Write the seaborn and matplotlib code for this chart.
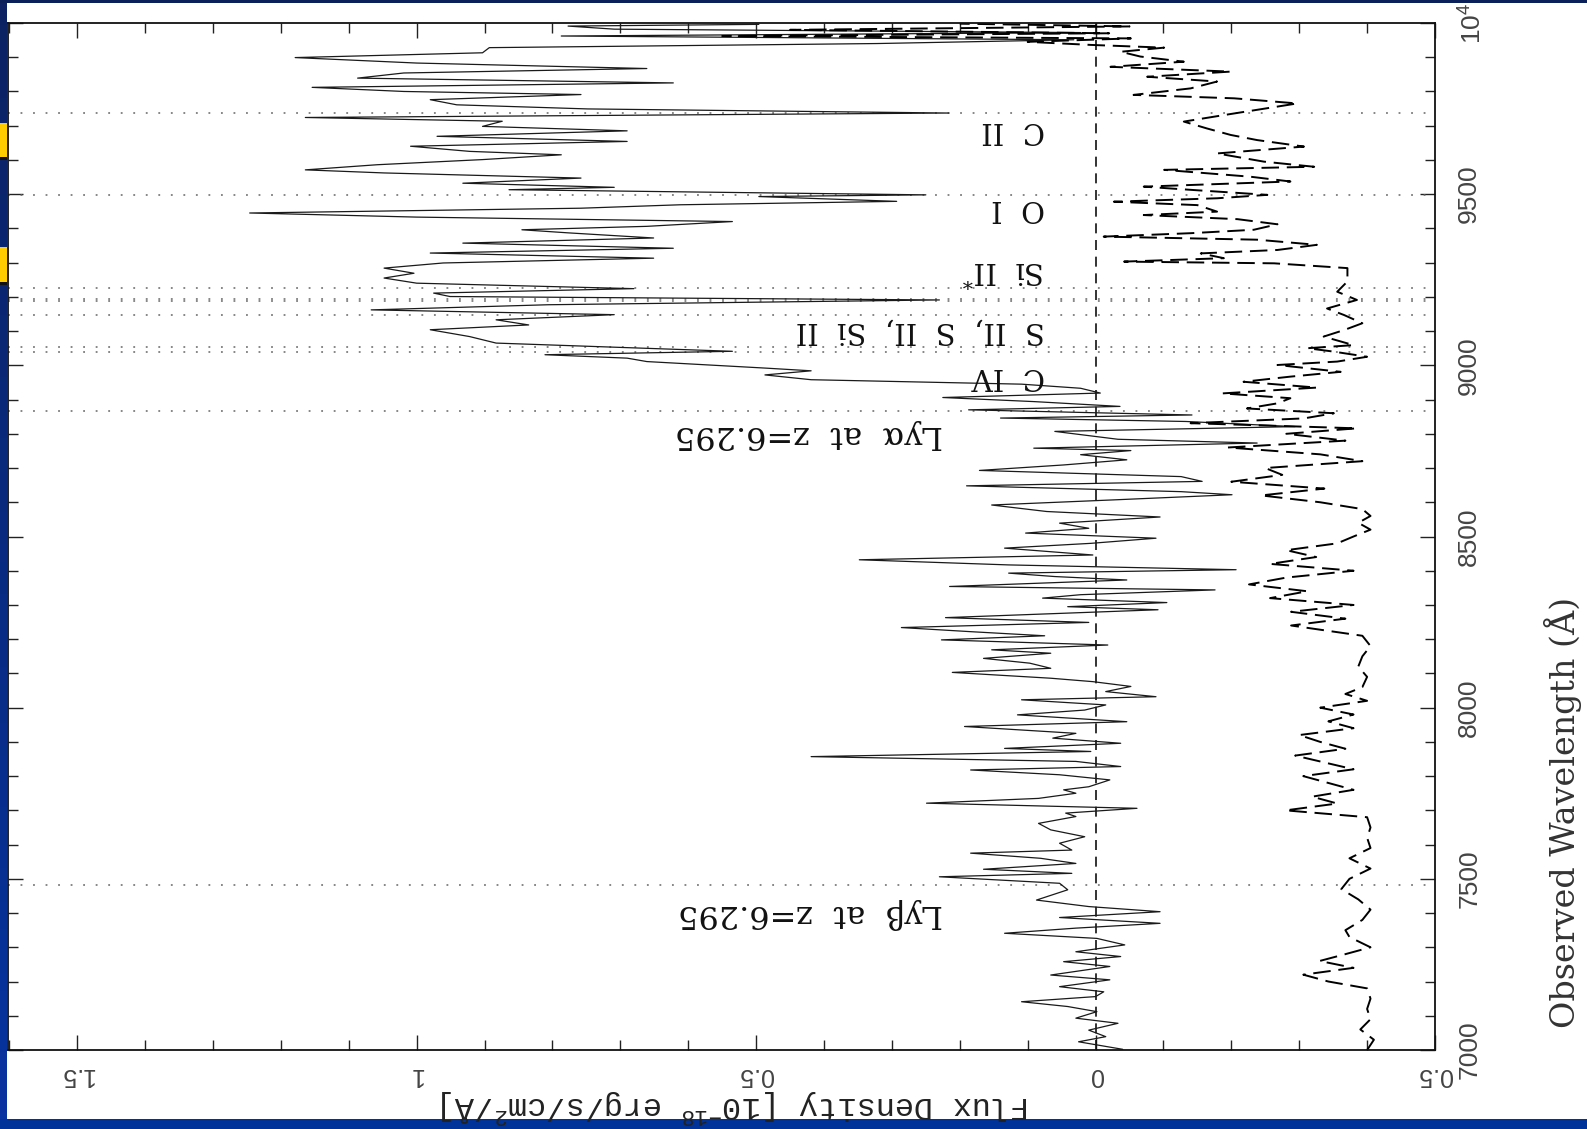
import numpy as np
import pandas as pd
import matplotlib
matplotlib.use("Agg")
import matplotlib.pyplot as plt
import seaborn as sns
from matplotlib.patches import Rectangle
from matplotlib.ticker import MultipleLocator
from matplotlib.colors import LinearSegmentedColormap

# ---------------- data ----------------
wave = [7002, 7024, 7039, 7058, 7078, 7093, 7112, 7127, 7141, 7156, 7170, 7185, 7205, 7219,
        7244, 7258, 7273, 7287, 7307, 7326, 7341, 7356, 7370, 7387, 7404, 7419, 7438, 7468,
        7487, 7506, 7516, 7528, 7545, 7560, 7575, 7584, 7604, 7623, 7643, 7662, 7682, 7692,
        7706, 7721, 7735, 7750, 7760, 7769, 7789, 7804, 7818, 7828, 7843, 7857, 7872, 7881,
        7896, 7911, 7925, 7945, 7959, 7979, 7993, 8008, 8023,
        8032, 8047, 8062, 8076, 8086, 8103, 8115, 8130, 8144, 8159, 8169, 8183, 8198, 8210,
        8222, 8234, 8249, 8263, 8286, 8295, 8307, 8320, 8330, 8344, 8354, 8373, 8383, 8393,
        8403, 8417, 8432, 8446, 8466, 8480, 8495, 8510, 8524, 8539, 8557, 8573, 8592, 8607,
        8622, 8631, 8648, 8661, 8675, 8693, 8709, 8724, 8739, 8751, 8758, 8773, 8784, 8807,
        8821, 8836,
        8846, 8855, 8870, 8880, 8894, 8906, 8919, 8933, 8945, 8958, 8972, 8984, 8992, 9011,
        9021, 9031, 9041, 9055, 9065, 9084, 9104, 9118, 9133, 9148, 9162, 9177, 9191, 9201,
        9211, 9224, 9240, 9255, 9269, 9284, 9299, 9313, 9328, 9342, 9357, 9372, 9387, 9396,
        9406, 9420, 9433, 9445, 9459, 9469, 9479, 9493, 9498, 9513, 9520, 9532, 9547, 9562,
        9571, 9586, 9601, 9615, 9625, 9640, 9654, 9669, 9685, 9698, 9713, 9724, 9737, 9749,
        9761, 9776, 9791, 9800, 9812, 9825, 9839, 9854, 9867, 9883, 9899, 9913, 9928, 9940,
        9951, 9962, 9972, 9982, 9991, 9996]
flux = [-0.040, 0.025, -0.015, 0.010, -0.033, 0.029, -0.002, 0.041, 0.109, 0.000, -0.012, 0.053, -0.021, 0.066,
        -0.021, 0.047, -0.037, 0.029, -0.043, -0.002, 0.134, 0.029, -0.095, 0.053, -0.095, 0.010, 0.087, 0.041,
        0.053, 0.230, 0.035, 0.165, 0.029, 0.081, 0.184, 0.035, 0.053, 0.016, 0.066, 0.084, 0.029, 0.044,
        -0.061, 0.249, 0.084, 0.029, 0.047, 0.010, -0.021, 0.053, 0.184, -0.037, 0.029, 0.419, 0.007, 0.134,
        -0.037, 0.063, 0.029, 0.193, -0.046, 0.115, 0.016, -0.015, 0.109,
        -0.089, -0.015, -0.052, 0.004, 0.066, 0.211, 0.066, 0.097, 0.165, 0.066, 0.153, -0.018, 0.227, 0.075,
        0.184, 0.286, 0.010, 0.221, -0.092, 0.041, -0.105, 0.078, 0.022, -0.176, 0.215, -0.046, 0.060, 0.128,
        -0.207, 0.128, 0.348, 0.004, 0.134, 0.007, -0.089, 0.103, 0.010, 0.053, -0.095, 0.072, 0.153, -0.027,
        -0.201, -0.126, 0.190, -0.157, -0.126, 0.171, 0.047, -0.046, 0.022, -0.052, 0.091, -0.238, -0.033, 0.060,
        -0.294, -0.133,
        0.140, -0.142, 0.187, -0.036, 0.090, 0.225, -0.007, 0.022, 0.109, 0.419, 0.487, 0.419, 0.487, 0.661,
        0.690, 0.811, 0.535, 0.738, 0.883, 0.922, 0.980, 0.835, 0.883, 0.709, 1.067, 0.806, 0.230, 0.951,
        0.975, 0.680, 1.000, 1.048, 1.004, 1.048, 0.961, 0.651, 0.980, 0.622, 0.932, 0.651, 0.777, 0.845,
        0.661, 0.535, 1.000, 1.246, 0.758, 0.612, 0.293, 0.496, 0.250, 0.864, 0.709, 0.932, 0.758, 1.048,
        1.164, 1.058, 0.903, 0.787, 0.922, 1.009, 0.690, 0.970, 0.690, 0.903, 0.874, 1.164, 0.216, 0.748,
        0.941, 0.980, 0.758, 1.019, 1.154, 0.622, 1.087, 1.019, 0.661, 1.000, 1.179, 0.903, 0.893, 0.322,
        0.032, 0.787, 0.022, 0.709, 0.777, 0.496]

noise_wave = [7000, 7030, 7060, 7090, 7120, 7150, 7180, 7200, 7220, 7240, 7260, 7280, 7300, 7330,
              7350, 7380, 7410, 7440, 7470, 7500, 7530, 7560, 7590, 7620, 7650, 7680, 7700, 7720,
              7740, 7760, 7780, 7800, 7820, 7840, 7860, 7880, 7900, 7920, 7940, 7960, 7980, 8000,
              8020, 8040, 8060, 8090, 8120, 8150, 8180, 8210, 8240, 8260, 8280, 8300, 8320, 8340,
              8360, 8380, 8400, 8420, 8440, 8460, 8480, 8500, 8520, 8540, 8560, 8580, 8600, 8620,
              8640, 8660, 8680, 8700, 8720, 8740, 8760, 8780, 8800, 8816, 8831, 8845, 8860, 8874,
              8889, 8904, 8918, 8935, 8952, 8967, 8981, 9001, 9011, 9025, 9040, 9050, 9059, 9084,
              9103, 9123, 9147, 9166, 9191, 9215, 9245, 9284, 9298, 9303, 9313, 9327, 9337, 9352,
              9367, 9376, 9386, 9396, 9412, 9427, 9439, 9449, 9468, 9478, 9488, 9498, 9512, 9522,
              9537, 9551, 9571, 9580, 9595, 9619, 9639, 9658, 9673, 9692, 9712, 9731, 9751, 9765,
              9780, 9790, 9809, 9829, 9843, 9858, 9872, 9887, 9902, 9916, 9928, 9936, 9945, 9955,
              9962, 9970, 9980, 9990, 9998]
noise_flux = [-0.400, -0.410, -0.390, -0.405, -0.400, -0.405, -0.400, -0.343, -0.306, -0.380, -0.330, -0.368, -0.405, -0.374,
              -0.368, -0.393, -0.405, -0.387, -0.362, -0.374, -0.405, -0.374, -0.405, -0.400, -0.405, -0.400, -0.280, -0.356,
              -0.319, -0.380, -0.343, -0.306, -0.380, -0.337, -0.294, -0.368, -0.331, -0.300, -0.380, -0.343, -0.380, -0.331,
              -0.400, -0.368, -0.393, -0.400, -0.387, -0.393, -0.405, -0.393, -0.288, -0.368, -0.288, -0.380, -0.257, -0.312,
              -0.226, -0.281, -0.380, -0.257, -0.325, -0.281, -0.356, -0.380, -0.405, -0.387, -0.405, -0.393, -0.331, -0.244,
              -0.337, -0.200, -0.275, -0.250, -0.393, -0.331, -0.195, -0.368, -0.281, -0.385, -0.140, -0.307, -0.351, -0.223,
              -0.268, -0.287, -0.187, -0.326, -0.218, -0.287, -0.361, -0.268, -0.356, -0.400, -0.351, -0.312, -0.380, -0.336,
              -0.366, -0.393, -0.366, -0.341, -0.385, -0.356, -0.371, -0.371, -0.263, -0.042, -0.189, -0.155, -0.268, -0.326,
              -0.238, -0.012, -0.140, -0.233, -0.268, -0.209, -0.071, -0.179, -0.150, -0.027, -0.179, -0.253, -0.145, -0.071,
              -0.287, -0.228, -0.101, -0.322, -0.248, -0.179, -0.307, -0.238, -0.199, -0.164, -0.130, -0.189, -0.253, -0.297,
              -0.204, -0.056, -0.140, -0.179, -0.076, -0.199, -0.022, -0.130, -0.066, -0.037, -0.101, 0.007, 0.100, -0.052,
              0.550, -0.020, 0.450, -0.050, 0.200]

line_waves = [7482, 8868, 9040, 9054, 9146, 9188, 9195, 9226, 9498, 9736]

label_texts = ["Ly\u03b2  at  z=6.295", "Ly\u03b1  at  z=6.295", "C  IV", "S  II,  S  II,  Si  II",
               "Si  II$^{\\mathregular{*}}$", "O  I", "C  II"]
label_waves = [7399, 8797, 8970, 9101, 9277, 9459, 9688]
label_flux = [0.224, 0.224, 0.075, 0.075, 0.075, 0.075, 0.075]
label_sizes = [23, 23, 21, 21, 21, 21, 21]

flux_ticks = [1.5, 1.0, 0.5, 0.0, -0.5]
flux_ticklabels = ["1.5", "1", "0.5", "0", "0.5"]
wave_ticks = [7000, 7500, 8000, 8500, 9000, 9500, 10000]
wave_ticklabels = ["7000", "7500", "8000", "8500", "9000", "9500", "10$^{\\mathregular{4}}$"]

spec = pd.DataFrame({"flux": flux, "wave": wave})
noise = pd.DataFrame({"flux": noise_flux, "wave": noise_wave})

# ---------------- figure ----------------
sns.set_theme(style="white")
plt.rcParams['font.family'] = ['Liberation Serif', 'DejaVu Sans']
plt.rcParams['mathtext.fontset'] = 'custom'

W, H = 1587, 1129
fig = plt.figure(figsize=(W / 100, H / 100), dpi=100)
fig.patch.set_facecolor('#003399')

def fx(px):
    return px / W

def fy(py):
    return (H - py) / H

# slide decoration
fig.add_artist(Rectangle((fx(7), fy(1119)), fx(W - 7), (1119 - 3) / H,
                         transform=fig.transFigure, facecolor='white', edgecolor='none', zorder=-5))
fig.add_artist(Rectangle((0, fy(3)), 1, 3 / H, transform=fig.transFigure,
                         facecolor='#0b1f58', edgecolor='none', zorder=-4))
grad_ax = fig.add_axes([0, fy(1119), fx(7), (1119 - 3) / H], zorder=-3)
grad = np.linspace(0, 1, 200).reshape(-1, 1)
cm = LinearSegmentedColormap.from_list("slide", ['#0c2262', '#0634a0'])
grad_ax.imshow(grad, aspect='auto', cmap=cm, extent=[0, 1, 0, 1], origin='upper')
grad_ax.axis('off')
for (y0, y1) in [(123, 157), (247, 282)]:
    fig.add_artist(Rectangle((0, fy(y1)), fx(7), (y1 - y0) / H, transform=fig.transFigure,
                             facecolor='#ffcc00', edgecolor='none', zorder=-2))
    fig.add_artist(Rectangle((0, fy(y1 + 3)), fx(7), 3 / H, transform=fig.transFigure,
                             facecolor='#111111', edgecolor='none', zorder=-2))

ax = fig.add_axes([fx(8), fy(1050), fx(1435 - 8), (1050 - 23) / H])
ax.set_facecolor('white')

sns.lineplot(data=spec, x="flux", y="wave", sort=False, estimator=None, ax=ax,
             color='#1a1a1a', lw=0.9)
sns.lineplot(data=noise, x="flux", y="wave", sort=False, estimator=None, ax=ax,
             color='#000000', lw=1.4, linestyle=(0, (9, 4)))

ax.axvline(0, color='#111111', lw=1.2, ls=(0, (6, 4)), zorder=1)
for w in line_waves:
    ax.axhline(w, color='#666666', lw=1.1, ls=(0, (1.2, 7)), zorder=1)

for t, w, f, s in zip(label_texts, label_waves, label_flux, label_sizes):
    ax.text(f, w, t, rotation=180, ha='right', va='center', fontsize=s,
            family=['DejaVu Serif', 'Liberation Serif'], color='#111111')

ax.set_xlim(1.602, -0.499)
ax.set_ylim(7000, 10000)
ax.set_xticks(flux_ticks)
ax.set_xticklabels(flux_ticklabels)
ax.set_yticks(wave_ticks)
ax.set_yticklabels(wave_ticklabels)
ax.xaxis.set_minor_locator(MultipleLocator(0.1))
ax.yaxis.set_minor_locator(MultipleLocator(100))
ax.set_xlabel("")
ax.set_ylabel("")

ax.tick_params(axis='both', which='both', direction='in', top=True, bottom=True,
               left=True, right=True, labelleft=False, labelright=True,
               labelbottom=True, labeltop=False, color='#222222', width=1.0)
ax.tick_params(axis='both', which='major', length=11)
ax.tick_params(axis='both', which='minor', length=7)
ax.tick_params(axis='y', pad=16)
ax.tick_params(axis='x', pad=9)

for lab in ax.get_yticklabels():
    lab.set_rotation(90)
    lab.set_va('center')
    lab.set_family(['Liberation Sans Narrow', 'Liberation Sans', 'DejaVu Sans'])
    lab.set_fontsize(19)
    lab.set_color('#444444')
for lab in ax.get_xticklabels():
    lab.set_rotation(180)
    lab.set_family(['Liberation Sans', 'DejaVu Sans'])
    lab.set_fontsize(18)
    lab.set_color('#444444')

for s in ax.spines.values():
    s.set_color('#111111')
    s.set_linewidth(1.3)
    s.set_visible(True)

fig.text(fx(1563), fy(812), "Observed Wavelength (\u00c5)", rotation=90, ha='center', va='center',
         fontsize=24, family=['DejaVu Serif', 'Liberation Serif'], color='#333333')
fig.text(fx(735), fy(1106), "Flux Density [10$^{\\mathregular{-18}}$ erg/s/cm$^{\\mathregular{2}}$/\u00c5]",
         rotation=180, ha='center', va='center', fontsize=23,
         family=['Liberation Mono', 'DejaVu Sans Mono'], color='#222222')

fig.savefig("out.png", dpi=100, facecolor=fig.get_facecolor())
